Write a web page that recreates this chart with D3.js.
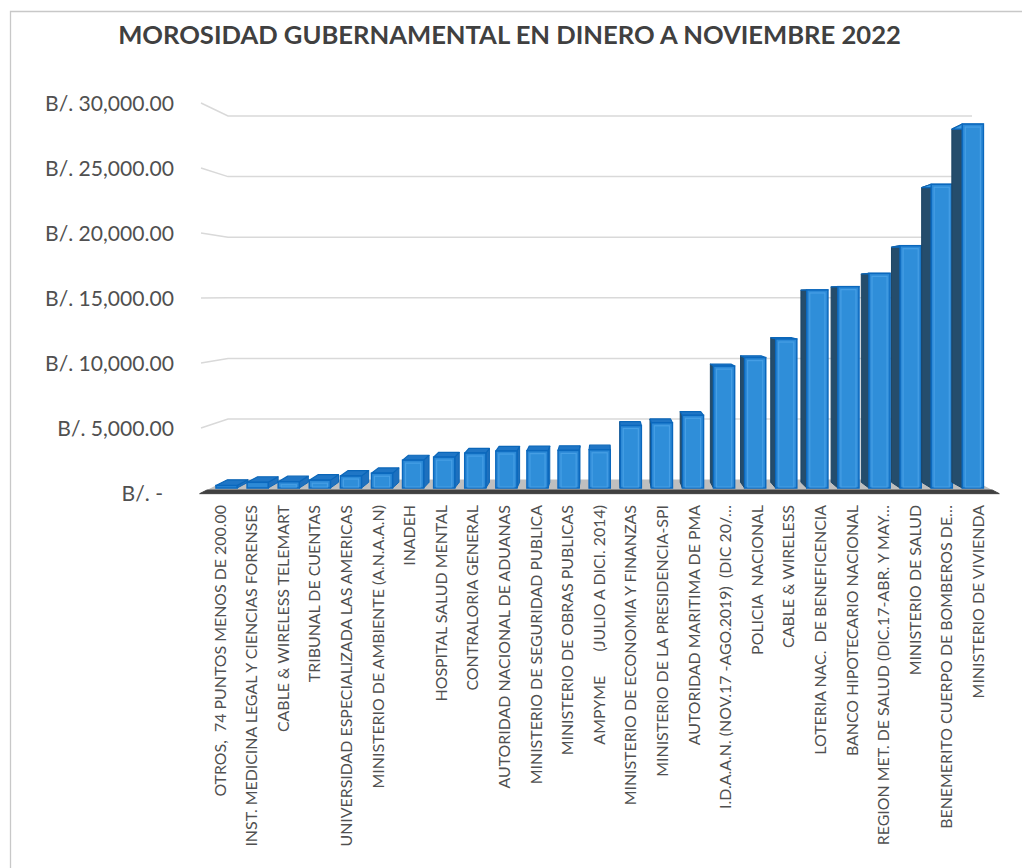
<!DOCTYPE html>
<html><head><meta charset="utf-8">
<script src="https://cdn.jsdelivr.net/npm/d3@7"></script>
<style>
html,body{margin:0;padding:0;background:#fff;}
svg{display:block;}
text{white-space:pre;}
</style>
</head><body>
<svg id="chart" width="1022" height="868"></svg>
<script>
const chartTitle = "MOROSIDAD GUBERNAMENTAL EN DINERO A NOVIEMBRE 2022";
const categories = [
  "OTROS,  74 PUNTOS MENOS DE 200.00",
  "INST. MEDICINA LEGAL Y CIENCIAS FORENSES",
  "CABLE & WIRELESS TELEMART",
  "TRIBUNAL DE CUENTAS",
  "UNIVERSIDAD ESPECIALIZADA LAS AMERICAS",
  "MINISTERIO DE AMBIENTE (A.N.A.A.N)",
  "INADEH",
  "HOSPITAL SALUD MENTAL",
  "CONTRALORIA GENERAL",
  "AUTORIDAD NACIONAL DE ADUANAS",
  "MINISTERIO DE SEGURIDAD PUBLICA",
  "MINISTERIO DE OBRAS PUBLICAS",
  "AMPYME      (JULIO A DICI. 2014)",
  "MINISTERIO DE ECONOMIA Y FINANZAS",
  "MINISTERIO DE LA PRESIDENCIA-SPI",
  "AUTORIDAD MARITIMA DE PMA",
  "I.D.A.A.N. (NOV.17 -AGO.2019)  (DIC 20/…",
  "POLICIA  NACIONAL",
  "CABLE & WIRELESS",
  "LOTERIA NAC.  DE BENEFICENCIA",
  "BANCO HIPOTECARIO NACIONAL",
  "REGION MET. DE SALUD (DIC.17-ABR. Y MAY…",
  "MINISTERIO DE SALUD",
  "BENEMERITO CUERPO DE BOMBEROS DE…",
  "MINISTERIO DE VIVIENDA"
];
const values = [200, 450, 500, 620, 950, 1170, 2200, 2440, 2760, 2920, 2950, 2970, 3020,
  4930, 5150, 5740, 9620, 10290, 11760, 15630, 15890, 16940, 19120, 23970, 28720];
const yTicks = [0, 5000, 10000, 15000, 20000, 25000, 30000];
const yTickLabels = ["B/. -", "B/. 5,000.00", "B/. 10,000.00", "B/. 15,000.00",
  "B/. 20,000.00", "B/. 25,000.00", "B/. 30,000.00"];

const FONT = "Lato, 'Open Sans', sans-serif";
const svg = d3.select("#chart");

// chart border
svg.append("path").attr("d", "M10.5,868 V11.5 H1022")
  .attr("fill", "none").attr("stroke", "#C8C8C8").attr("stroke-width", 1.3);

// pseudo-3D projection: back wall plane (t=0) and front plane (t=1)
const yBack = d3.scaleLinear().domain([0, 30000]).range([479.6, 116]);
const yFront = d3.scaleLinear().domain([0, 30000]).range([493, 103]);
const xBack = d3.scaleBand().domain(categories).range([228, 972]).paddingInner(0.32).paddingOuter(0.16);
const xFront = d3.scaleBand().domain(categories).range([201, 998]).paddingInner(0.32).paddingOuter(0.16);
const py = (v, t) => yBack(v) + t * (yFront(v) - yBack(v));
const pxC = (c, f, t) => {
  const xb = xBack(c) + f * xBack.bandwidth();
  const xf = xFront(c) + f * xFront.bandwidth();
  return xb + t * (xf - xb);
};
const pxEdge = (side, t) => {
  const xb = xBack.range()[side], xf = xFront.range()[side];
  return xb + t * (xf - xb);
};
const T0 = 0.2, T1 = 0.63;

// gridlines (side wall + back wall)
const gGrid = svg.append("g");
yTicks.filter(d => d > 0).forEach(v => {
  gGrid.append("path")
    .attr("d", `M${pxEdge(0, 1)},${yFront(v)} L${pxEdge(0, 0)},${yBack(v)} L${pxEdge(1, 0)},${yBack(v)}`)
    .attr("fill", "none").attr("stroke", "#D9D9D9").attr("stroke-width", 1.5);
});

// floor
const poly = pts => "M" + pts.map(p => p.join(",")).join("L") + "Z";
svg.append("path").attr("d", poly([
  [pxEdge(0, 0), py(0, 0)], [pxEdge(1, 0), py(0, 0)],
  [pxEdge(1, 0.8), py(0, 0.8)], [pxEdge(0, 0.8), py(0, 0.8)]
])).attr("fill", "#BFBFBF");
svg.append("path").attr("d", poly([
  [pxEdge(0, 0.78), py(0, 0.78)], [pxEdge(1, 0.78), py(0, 0.78)],
  [pxEdge(1, 1.05), py(0, 1.05)], [pxEdge(0, 1.05), py(0, 1.05)]
])).attr("fill", "#404040").attr("stroke", "#404040").attr("stroke-linejoin", "round").attr("stroke-width", 1);

// bars
const gBars = svg.append("g");
categories.forEach((c, i) => {
  const v = values[i];
  const g = gBars.append("g");
  const P = (f, val, t) => [pxC(c, f, t), py(val, t)];
  // side faces
  if (pxC(c, 1, T0) > pxC(c, 1, T1)) {
    g.append("path").attr("d", poly([P(1, 0, T1), P(1, 0, T0), P(1, v, T0), P(1, v, T1)]))
      .attr("fill", "#1E70BE").attr("stroke", "#0B66B8").attr("stroke-width", 1).attr("stroke-linejoin", "round");
  }
  if (pxC(c, 0, T0) < pxC(c, 0, T1)) {
    g.append("path").attr("d", poly([P(0, 0, T1), P(0, 0, T0), P(0, v, T0), P(0, v, T1)]))
      .attr("fill", "#254D6C").attr("stroke", "#1C4464").attr("stroke-width", 1).attr("stroke-linejoin", "round");
  }
  // top face
  if (py(v, T0) < py(v, T1)) {
    g.append("path").attr("d", poly([P(0, v, T1), P(0, v, T0), P(1, v, T0), P(1, v, T1)]))
      .attr("fill", "#1F76C6").attr("stroke", "#0B66B8").attr("stroke-width", 1.2).attr("stroke-linejoin", "round");
  } else {
    g.append("path").attr("d", poly([P(0, v, T1), P(0, v, T0), P(1, v, T0), P(1, v, T1)]))
      .attr("fill", "#3C98E0").attr("stroke", "#0B66B8").attr("stroke-width", 1.2).attr("stroke-linejoin", "round");
  }
  // front face
  const x0 = pxC(c, 0, T1), x1 = pxC(c, 1, T1), yt = py(v, T1), yb = py(0, T1);
  g.append("rect").attr("x", x0).attr("y", yt).attr("width", x1 - x0).attr("height", Math.max(0.5, yb - yt))
    .attr("fill", "#2D8AD7").attr("stroke", "#0B68BD").attr("stroke-width", 1.5);
  if (yb - yt > 6) {
    g.append("rect").attr("x", x0 + 3).attr("y", yt + 3).attr("width", x1 - x0 - 6).attr("height", yb - yt - 4)
      .attr("fill", "#2F8ED9").attr("stroke", "#4FA6EA").attr("stroke-width", 1.2).attr("stroke-opacity", 0.75);
  }
});

// fit helper: font size so that text width matches target
function fitSize(str, target, weight) {
  const t = svg.append("text").attr("font-family", FONT).attr("font-size", 100)
    .attr("font-weight", weight || "normal").text(str);
  const w = t.node().getComputedTextLength();
  t.remove();
  return 100 * target / w;
}

// title
svg.append("text").attr("x", 509.5).attr("y", 44).attr("text-anchor", "middle")
  .attr("font-family", FONT).attr("font-weight", "bold")
  .attr("font-size", fitSize(chartTitle, 783, "bold"))
  .attr("fill", "#404040").text(chartTitle);

// y axis (front plane)
const ySize = fitSize("B/. 30,000.00", 129);
const gy = svg.append("g").attr("transform", "translate(174,0)")
  .call(d3.axisLeft(yFront).tickValues(yTicks).tickFormat((d, i) => yTickLabels[i]).tickSize(0).tickPadding(0));
gy.select(".domain").remove();
gy.attr("font-family", FONT).attr("font-size", ySize);
gy.selectAll("text").attr("fill", "#505050").attr("dy", "0.36em")
  .attr("x", d => d === 0 ? -11 : 0);

// x axis labels, rotated
const xLab = d3.scaleBand().domain(categories).range([204, 994]);
const xSize = fitSize("INST. MEDICINA LEGAL Y CIENCIAS FORENSES", 342);
const gx = svg.append("g").attr("transform", "translate(0,505)")
  .call(d3.axisBottom(xLab).tickSize(0).tickPadding(0));
gx.select(".domain").remove();
gx.attr("font-family", FONT).attr("font-size", xSize);
gx.selectAll("text").attr("transform", "rotate(-90)").attr("x", 0).attr("y", 0)
  .attr("dy", "0.36em").attr("text-anchor", "end").attr("fill", "#505050");
</script>
</body></html>
